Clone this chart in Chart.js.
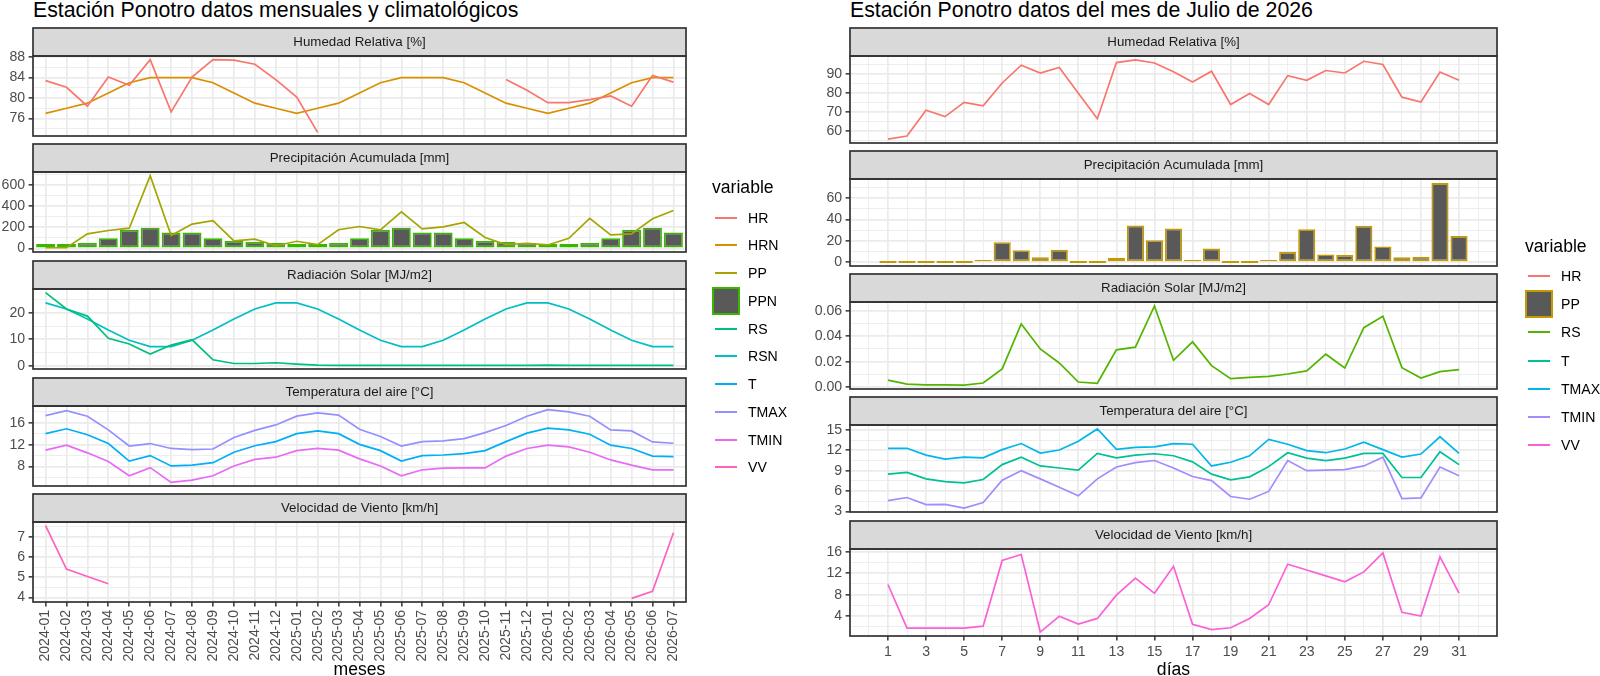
<!DOCTYPE html>
<html>
<head>
<meta charset="utf-8">
<script src="https://cdn.jsdelivr.net/npm/chart.js@4.4.1/dist/chart.umd.min.js"></script>
<style>
  html, body { margin: 0; padding: 0; background: #ffffff; }
  body { width: 1600px; height: 676px; overflow: hidden; position: relative;
         font-family: "Liberation Sans", Arial, Helvetica, sans-serif; }
  .box { position: absolute; }
  .ptitle { position: absolute; font-size: 21.3px; line-height: 24px; color: #000; white-space: nowrap; }
  .legtitle { position: absolute; font-size: 17.6px; line-height: 20px; color: #000; white-space: nowrap; }
  .legtxt { position: absolute; font-size: 14.1px; line-height: 18px; color: #000; white-space: nowrap; }
  .legline { position: absolute; height: 2px; }
  .legbox { position: absolute; box-sizing: border-box; background: #595959; }
</style>
</head>
<body>
<div class="ptitle" style="left:33px; top:-2px;">Estación Ponotro datos mensuales y climatológicos</div>
<div class="ptitle" style="left:850px; top:-2px;">Estación Ponotro datos del mes de Julio de 2026</div>
<script>
// ---------------- DATA (left: monthly & climatological) ----------------
const months = ['2024-01','2024-02','2024-03','2024-04','2024-05','2024-06','2024-07','2024-08','2024-09','2024-10','2024-11','2024-12',
                '2025-01','2025-02','2025-03','2025-04','2025-05','2025-06','2025-07','2025-08','2025-09','2025-10','2025-11','2025-12',
                '2026-01','2026-02','2026-03','2026-04','2026-05','2026-06','2026-07'];
const hrMes   = [83.4, 82.1, 78.4, 84.1, 82.5, 87.5, 77.3, 84.1, 87.5, 87.4, 86.6, 83.6, 80.2, 73.3,
                 null, null, null, null, null, null, null, null,
                 83.6, 81.5, 79.1, 79.1, 79.7, 80.4, 78.4, 84.4, 83.1];
const hrnMes  = [77, 78, 79, 81, 83, 84, 84, 84, 83, 81, 79, 78,
                 77, 78, 79, 81, 83, 84, 84, 84, 83, 81, 79, 78,
                 77, 78, 79, 81, 83, 84, 84];
const ppMes   = [6, 6, 137, 168, 190, 685, 121, 229, 260, 70, 86, 25,
                 67, 35, 175, 206, 175, 343, 184, 203, 244, 102, 35, 48,
                 32, 95, 283, 127, 137, 279, 356];
const ppnMes  = [40, 40, 50, 95, 175, 195, 150, 150, 95, 70, 60, 50,
                 40, 40, 50, 95, 175, 195, 150, 150, 95, 70, 60, 50,
                 40, 40, 50, 95, 175, 195, 150];
const rsMes   = [27.7, 21.5, 18.8, 10.4, 8.2, 4.4, 7.8, 9.8, 2.2, 0.8, 0.8, 1.1,
                 0.6, 0.2, 0.1, 0.1, 0.1, 0.1, 0.1, 0.1, 0.1, 0.1, 0.1, 0.1,
                 0.2, 0.1, 0.1, 0.1, 0.1, 0.1, 0.1];
const rsnMes  = [23.8, 21.5, 17.7, 13.5, 9.6, 7.2, 7.2, 9.6, 13.5, 17.7, 21.5, 23.8,
                 23.8, 21.5, 17.7, 13.5, 9.6, 7.2, 7.2, 9.6, 13.5, 17.7, 21.5, 23.8,
                 23.8, 21.5, 17.7, 13.5, 9.6, 7.2, 7.2];
const tMes    = [14.0, 14.9, 13.8, 12.2, 9.0, 10.0, 8.1, 8.25, 8.7, 10.6, 11.8, 12.55,
                 14.0, 14.5, 14.0, 12.05, 10.9, 9.0, 10.0, 10.1, 10.35, 10.9, 12.55, 14.1,
                 15.0, 14.7, 13.9, 11.9, 11.3, 9.9, 9.8];
const tmaxMes = [17.3, 18.2, 17.2, 14.7, 11.75, 12.2, 11.3, 11.1, 11.2, 13.3, 14.6, 15.6,
                 17.2, 17.8, 17.4, 14.8, 13.5, 11.75, 12.55, 12.7, 13.1, 14.2, 15.5, 17.2,
                 18.4, 18.0, 17.2, 14.7, 14.5, 12.5, 12.25];
const tminMes = [11.0, 11.9, 10.5, 8.9, 6.3, 7.8, 5.1, 5.5, 6.3, 8.1, 9.3, 9.7,
                 10.9, 11.3, 11.0, 9.4, 8.1, 6.3, 7.4, 7.7, 7.75, 7.75, 9.9, 11.3,
                 11.9, 11.6, 10.6, 9.2, 8.25, 7.4, 7.4];
const vvMes   = [7.55, 5.4, 5.03, 4.67,
                 null, null, null, null, null, null, null, null, null, null, null, null,
                 null, null, null, null, null, null, null, null, null, null, null, null,
                 3.95, 4.3, 7.2];

// ---------------- DATA (right: daily, July 2026) ----------------
const days    = [1,2,3,4,5,6,7,8,9,10,11,12,13,14,15,16,17,18,19,20,21,22,23,24,25,26,27,28,29,30,31];
const hrDia   = [55.7, 57.3, 71.0, 67.6, 75.1, 73.3, 85.4, 94.8, 90.7, 93.6, 80.0, 66.5, 96.2, 97.6, 96.0, 91.4,
                 85.9, 91.6, 74.0, 79.8, 74.0, 89.3, 86.8, 92.0, 90.7, 96.9, 95.2, 77.9, 75.3, 91.2, 86.8];
const ppDia   = [0, 0, 0, 0, 0, 0.8, 18.7, 11.2, 4.4, 11.6, 0, 0, 4.1, 34.4, 20.6, 31.6,
                 0.6, 12.8, 0, 0, 0.9, 9.4, 30.9, 7.2, 6.6, 34.1, 14.7, 4.4, 5.0, 74.4, 24.4];
const rsDia   = [0.0055, 0.0024, 0.0018, 0.0017, 0.0016, 0.0032, 0.0143, 0.0497, 0.0300, 0.0190, 0.0040, 0.0030,
                 0.0293, 0.0314, 0.0639, 0.0211, 0.0356, 0.0169, 0.0066, 0.0077, 0.0085, 0.0103, 0.0127, 0.0259,
                 0.0150, 0.0468, 0.0558, 0.0153, 0.0071, 0.0122, 0.0137];
const tDia    = [8.5, 8.75, 7.8, 7.4, 7.2, 7.7, 9.9, 11.0, 9.7, 9.4, 9.1, 11.55, 10.9, 11.3, 11.5, 11.2,
                 10.3, 8.5, 7.65, 8.1, 9.6, 11.65, 10.85, 10.5, 10.85, 11.55, 11.55, 8.0, 8.0, 11.8, 9.9];
const tmaxDia = [12.3, 12.3, 11.3, 10.7, 11.0, 10.9, 12.1, 13.0, 11.6, 12.05, 13.35, 15.15, 12.15, 12.45, 12.5, 13.0,
                 12.9, 9.7, 10.25, 11.2, 13.6, 12.9, 11.95, 11.65, 12.2, 13.2, 12.1, 11.0, 11.45, 14.0, 11.55];
const tminDia = [4.6, 5.05, 4.0, 4.05, 3.5, 4.3, 7.6, 9.0, 7.8, 6.55, 5.3, 7.8, 9.55, 10.2, 10.5, 9.4,
                 8.15, 7.55, 5.2, 4.8, 5.95, 10.5, 9.0, 9.1, 9.15, 9.7, 11.0, 4.9, 5.0, 9.55, 8.25];
const vvDia   = [9.9, 1.75, 1.75, 1.75, 1.75, 2.1, 14.4, 15.5, 1.0, 3.95, 2.5, 3.55, 7.9, 11.1, 8.25, 13.3,
                 2.45, 1.45, 1.8, 3.55, 6.1, 13.7, 12.6, 11.5, 10.4, 12.25, 15.8, 4.7, 4.0, 15.05, 8.3];

// ---------------- TICKS ----------------
const hrTicksL = [76, 80, 84, 88];
const ppTicksL = [0, 200, 400, 600];
const rsTicksL = [0, 10, 20];
const tTicksL  = [8, 12, 16];
const vvTicksL = [4, 5, 6, 7];
const hrTicksR = [60, 70, 80, 90];
const ppTicksR = [0, 20, 40, 60];
const rsTicksR = [0, 0.02, 0.04, 0.06];
const tTicksR  = [3, 6, 9, 12, 15];
const vvTicksR = [4, 8, 12, 16];
const dayTicks = [1, 3, 5, 7, 9, 11, 13, 15, 17, 19, 21, 23, 25, 27, 29, 31];

// ---------------- LEGENDS ----------------
const legendL = [['HR','#F8766D','line'],['HRN','#D89000','line'],['PP','#A3A500','line'],['PPN','#39B600','box'],
                 ['RS','#00BF7D','line'],['RSN','#00BFC4','line'],['T','#00B0F6','line'],['TMAX','#9590FF','line'],
                 ['TMIN','#E76BF3','line'],['VV','#FF62BC','line']];
const legendR = [['HR','#F8766D','line'],['PP','#C49A00','box'],['RS','#53B400','line'],['T','#00C094','line'],
                 ['TMAX','#00B6EB','line'],['TMIN','#A58AFF','line'],['VV','#FB61D7','line']];

// ---------------- STYLE / LAYOUT ----------------
const FONT = '"Liberation Sans", Arial, Helvetica, sans-serif';
Chart.defaults.font.family = FONT;
const GRID = '#EBEBEB', DARK = '#333333', AXT = '#4D4D4D';
const S = 28;           // strip height
const LW = 1.7;         // line width
const SIDE_L = { yw: 33, panelL: 33, panelR: 686, top0: 27.5, unit: 116.7, panelH: 79.9 };
const SIDE_R = { yw: 50, panelL: 850, panelR: 1497, top0: 27.5, unit: 123.26, panelH: 86.5 };

function expandRange(arrays, withZero) {
  let lo = Infinity, hi = -Infinity;
  arrays.forEach(a => a.forEach(v => { if (v !== null && v !== undefined) { lo = Math.min(lo, v); hi = Math.max(hi, v); } }));
  if (withZero) { lo = Math.min(lo, 0); hi = Math.max(hi, 0); }
  const d = hi - lo;
  return [lo - 0.05 * d, hi + 0.05 * d];
}
function minorOf(majors, lo, hi) {
  const step = majors[1] - majors[0];
  const out = [];
  for (let k = -20; k <= majors.length + 20; k++) {
    const v = majors[0] + step * (k + 0.5);
    if (v >= lo - 1e-12 && v <= hi + 1e-12) out.push(v);
  }
  return out;
}
const isMinor = c => !!(c.tick && c.tick.minor);

const facetPlugin = {
  id: 'facet',
  afterDraw(chart, args, o) {
    const { ctx, chartArea: a } = chart;
    ctx.save();
    ctx.fillStyle = '#D9D9D9';
    ctx.fillRect(a.left, a.top - S, a.right - a.left, S);
    ctx.lineWidth = LW;
    ctx.strokeStyle = DARK;
    ctx.strokeRect(a.left, a.top - S, a.right - a.left, S);
    ctx.strokeRect(a.left, a.top, a.right - a.left, a.bottom - a.top);
    ctx.fillStyle = '#1A1A1A';
    ctx.font = '13.3px ' + FONT;
    ctx.textAlign = 'center';
    ctx.textBaseline = 'middle';
    ctx.fillText(o.label, (a.left + a.right) / 2, a.top - S / 2 + 0.5);
    ctx.restore();
  }
};

function lineDs(label, xs, ys, color) {
  return { type: 'line', label, data: xs.map((x, i) => ({ x, y: ys[i] })), borderColor: color, backgroundColor: color,
           borderWidth: LW, pointRadius: 0, pointHoverRadius: 0, tension: 0, fill: false, spanGaps: false, order: 0 };
}
function barDs(label, xs, ys, border) {
  return { type: 'bar', label, data: xs.map((x, i) => ({ x, y: ys[i] })), backgroundColor: '#595959', borderColor: border,
           borderWidth: LW, borderSkipped: false, barPercentage: 0.9, categoryPercentage: 1.0, minBarLength: 2, order: 10 };
}

function makeFacet(side, k, spec) {
  const stripTop = Math.round(side.top0 + side.unit * k);
  const panelT = stripTop + S;
  const panelB = Math.round(panelT + side.panelH);
  const bottom = !!spec.bottom;
  const left = side.panelL - side.yw;
  const top = stripTop - 4;
  const padR = 12;
  const padB = bottom ? 0 : 16;
  const width = side.panelR - left + padR;
  const height = bottom ? (676 - top) : (panelB - top + padB);
  const xh = bottom ? (676 - panelB) : 0;

  const div = document.createElement('div');
  div.className = 'box';
  div.style.left = left + 'px'; div.style.top = top + 'px';
  div.style.width = width + 'px'; div.style.height = height + 'px';
  const cv = document.createElement('canvas');
  div.appendChild(cv);
  document.body.appendChild(div);

  const [ylo, yhi] = spec.yRange;
  const yMinors = minorOf(spec.yTicks, ylo, yhi);
  const X = spec.x;

  new Chart(cv, {
    type: 'line',
    data: { datasets: spec.datasets },
    plugins: [facetPlugin],
    options: {
      responsive: true, maintainAspectRatio: false, animation: false, events: [],
      layout: { padding: { left: 0, right: padR, top: panelT - top, bottom: padB } },
      plugins: { legend: { display: false }, tooltip: { enabled: false }, facet: { label: spec.label } },
      scales: {
        x: {
          type: 'linear', position: 'bottom', min: X.min, max: X.max, bounds: 'data', offset: false,
          afterBuildTicks: ax => { ax.ticks = X.ticks.map(t => ({ value: t.v, minor: t.minor })); },
          afterFit: ax => { ax.height = xh; },
          grid: { offset: false, color: GRID, lineWidth: c => isMinor(c) ? 0.85 : LW, drawTicks: bottom, tickLength: 4.4,
                  tickColor: c => isMinor(c) ? 'rgba(0,0,0,0)' : DARK, tickWidth: 1.5 },
          border: { display: false },
          ticks: { display: bottom, autoSkip: false, maxRotation: X.rot, minRotation: X.rot, padding: 3.5, color: AXT,
                   font: { size: 14.1 }, callback: (v, i, t) => t[i].minor ? '' : X.label(v) },
          title: { display: bottom, text: X.title, color: '#000000', font: { size: 17.6, lineHeight: 0.6 }, padding: { top: 0, bottom: 0.8 } }
        },
        y: {
          type: 'linear', position: 'left', min: ylo, max: yhi, bounds: 'data',
          afterBuildTicks: ax => {
            ax.ticks = spec.yTicks.map(v => ({ value: v })).concat(yMinors.map(v => ({ value: v, minor: true })))
                         .sort((a, b) => a.value - b.value);
          },
          afterFit: ax => { ax.width = side.yw; },
          grid: { color: GRID, lineWidth: c => isMinor(c) ? 0.85 : LW, drawTicks: true, tickLength: 4.4,
                  tickColor: c => isMinor(c) ? 'rgba(0,0,0,0)' : DARK, tickWidth: 1.5 },
          border: { display: false },
          ticks: { autoSkip: false, padding: 3.5, color: AXT, font: { size: 14.1 },
                   callback: (v, i, t) => t[i].minor ? '' : spec.fmt(v) }
        }
      }
    }
  });
}

// x configurations
const idx = months.map((m, i) => i);
const XL = {
  min: -0.6, max: months.length - 1 + 0.6, rot: 90, title: 'meses',
  ticks: idx.map(i => ({ v: i, minor: false })),
  label: v => months[Math.round(v)]
};
const dLo = days[0] - 0.45, dHi = days[days.length - 1] + 0.45, dSpan = dHi - dLo;
const XR = {
  min: dLo - 0.05 * dSpan, max: dHi + 0.05 * dSpan, rot: 0, title: 'días',
  ticks: dayTicks.map(d => ({ v: d, minor: false }))
          .concat(dayTicks.map(d => ({ v: d - 1, minor: true })))
          .concat([{ v: dayTicks[dayTicks.length - 1] + 1, minor: true }])
          .sort((a, b) => a.v - b.v),
  label: v => String(v)
};
const fInt = v => String(Math.round(v));
const f2 = v => v.toFixed(2);

// ---------------- LEFT FACETS ----------------
makeFacet(SIDE_L, 0, { label: 'Humedad Relativa [%]', x: XL, yTicks: hrTicksL, fmt: fInt,
  yRange: expandRange([hrMes, hrnMes]),
  datasets: [lineDs('HR', idx, hrMes, '#F8766D'), lineDs('HRN', idx, hrnMes, '#D89000')] });
makeFacet(SIDE_L, 1, { label: 'Precipitación Acumulada [mm]', x: XL, yTicks: ppTicksL, fmt: fInt,
  yRange: expandRange([ppMes, ppnMes], true),
  datasets: [lineDs('PP', idx, ppMes, '#A3A500'), barDs('PPN', idx, ppnMes, '#39B600')] });
makeFacet(SIDE_L, 2, { label: 'Radiación Solar [MJ/m2]', x: XL, yTicks: rsTicksL, fmt: fInt,
  yRange: expandRange([rsMes, rsnMes]),
  datasets: [lineDs('RS', idx, rsMes, '#00BF7D'), lineDs('RSN', idx, rsnMes, '#00BFC4')] });
makeFacet(SIDE_L, 3, { label: 'Temperatura del aire [°C]', x: XL, yTicks: tTicksL, fmt: fInt,
  yRange: expandRange([tMes, tmaxMes, tminMes]),
  datasets: [lineDs('T', idx, tMes, '#00B0F6'), lineDs('TMAX', idx, tmaxMes, '#9590FF'), lineDs('TMIN', idx, tminMes, '#E76BF3')] });
makeFacet(SIDE_L, 4, { label: 'Velocidad de Viento [km/h]', x: XL, yTicks: vvTicksL, fmt: fInt, bottom: true,
  yRange: expandRange([vvMes]),
  datasets: [lineDs('VV', idx, vvMes, '#FF62BC')] });

// ---------------- RIGHT FACETS ----------------
makeFacet(SIDE_R, 0, { label: 'Humedad Relativa [%]', x: XR, yTicks: hrTicksR, fmt: fInt,
  yRange: expandRange([hrDia]),
  datasets: [lineDs('HR', days, hrDia, '#F8766D')] });
makeFacet(SIDE_R, 1, { label: 'Precipitación Acumulada [mm]', x: XR, yTicks: ppTicksR, fmt: fInt,
  yRange: expandRange([ppDia], true),
  datasets: [barDs('PP', days, ppDia, '#C49A00')] });
makeFacet(SIDE_R, 2, { label: 'Radiación Solar [MJ/m2]', x: XR, yTicks: rsTicksR, fmt: f2,
  yRange: expandRange([rsDia]),
  datasets: [lineDs('RS', days, rsDia, '#53B400')] });
makeFacet(SIDE_R, 3, { label: 'Temperatura del aire [°C]', x: XR, yTicks: tTicksR, fmt: fInt,
  yRange: expandRange([tDia, tmaxDia, tminDia]),
  datasets: [lineDs('T', days, tDia, '#00C094'), lineDs('TMAX', days, tmaxDia, '#00B6EB'), lineDs('TMIN', days, tminDia, '#A58AFF')] });
makeFacet(SIDE_R, 4, { label: 'Velocidad de Viento [km/h]', x: XR, yTicks: vvTicksR, fmt: fInt, bottom: true,
  yRange: expandRange([vvDia]),
  datasets: [lineDs('VV', days, vvDia, '#FB61D7')] });

// ---------------- LEGENDS (HTML) ----------------
function makeLegend(items, x, titleY, firstY, step) {
  const t = document.createElement('div');
  t.className = 'legtitle'; t.textContent = 'variable';
  t.style.left = x + 'px'; t.style.top = Math.round(titleY - 10) + 'px';
  document.body.appendChild(t);
  items.forEach((it, i) => {
    const cy = Math.round(firstY + i * step);
    if (it[2] === 'box') {
      const b = document.createElement('div');
      b.className = 'legbox';
      b.style.left = x + 'px'; b.style.top = (cy - 14) + 'px';
      b.style.width = '28px'; b.style.height = '28px';
      b.style.border = '2px solid ' + it[1];
      document.body.appendChild(b);
    } else {
      const l = document.createElement('div');
      l.className = 'legline';
      l.style.left = (x + 3) + 'px'; l.style.top = (cy - 1) + 'px';
      l.style.width = '22px'; l.style.background = it[1];
      document.body.appendChild(l);
    }
    const s = document.createElement('div');
    s.className = 'legtxt'; s.textContent = it[0];
    s.style.left = (x + 36) + 'px'; s.style.top = (cy - 9) + 'px';
    document.body.appendChild(s);
  });
}
makeLegend(legendL, 712, 187, 217.5, 27.75);
makeLegend(legendR, 1525, 246, 276, 28.2);
</script>
</body>
</html>
